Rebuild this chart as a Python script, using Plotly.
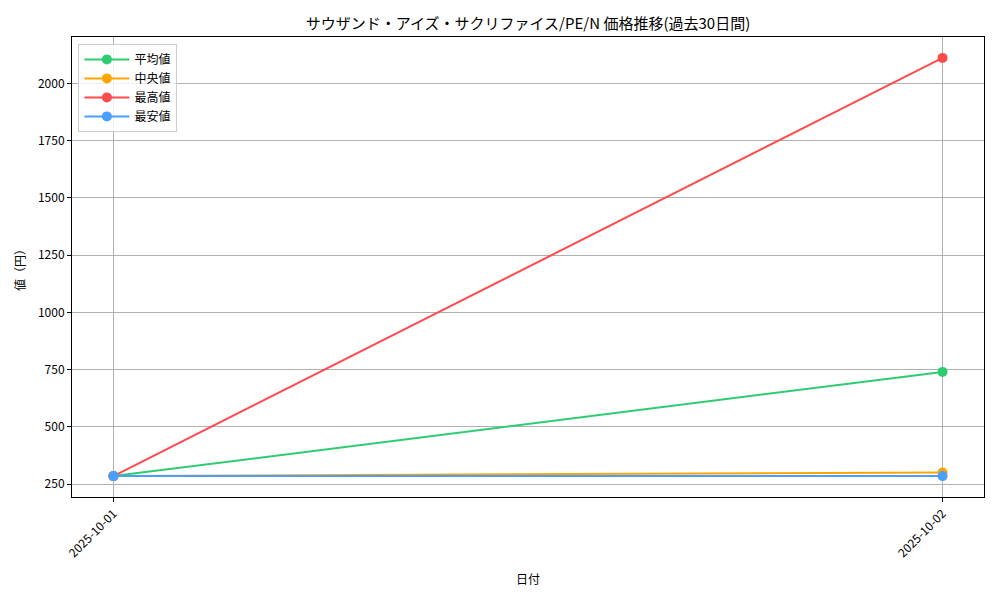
import plotly.graph_objects as go

dates = ["2025-10-01", "2025-10-02"]
mean_vals = [285, 740]
median_vals = [285, 301]
max_vals = [285, 2111]
min_vals = [285, 285]

series = [
    ("平均値", mean_vals, "#2ecc71"),
    ("中央値", median_vals, "#ffa500"),
    ("最高値", max_vals, "#ff4b4b"),
    ("最安値", min_vals, "#4a9eff"),
]

font = "Noto Sans CJK JP"

fig = go.Figure()
for name, vals, color in series:
    fig.add_trace(go.Scatter(
        x=dates, y=vals, name=name, mode="lines+markers",
        line=dict(color=color, width=2),
        marker=dict(color=color, size=10),
    ))

all_vals = mean_vals + median_vals + max_vals + min_vals
lo, hi = min(all_vals), max(all_vals)
pad = (hi - lo) * 0.05

# page body adds an 8px offset, so margins are shifted to compensate
fig.update_layout(
    width=1000, height=600,
    paper_bgcolor="white", plot_bgcolor="white",
    margin=dict(l=64, r=24, t=29, b=111, autoexpand=False),
    font=dict(family=font, size=12, color="black"),
    title=dict(text="サウザンド・アイズ・サクリファイス/PE/N 価格推移(過去30日間)",
               x=0.52, xanchor="center", y=0.973, yanchor="middle",
               font=dict(size=15)),
    legend=dict(x=0.007, y=0.985, xanchor="left", yanchor="top",
                bgcolor="rgba(255,255,255,0.8)", bordercolor="#cccccc", borderwidth=1,
                itemwidth=45, font=dict(size=12)),
    showlegend=True,
)
fig.update_xaxes(
    type="category", range=[-0.05, 1.05], automargin=False,
    title=dict(text="日付", font=dict(size=12), standoff=16),
    tickangle=-45, ticks="outside", ticklen=4, tickcolor="black",
    showgrid=True, gridcolor="#b0b0b0", gridwidth=1,
    showline=True, linecolor="black", linewidth=1, mirror=True,
    zeroline=False,
)
fig.update_yaxes(
    range=[lo - pad, hi + pad], automargin=False,
    tickvals=[250, 500, 750, 1000, 1250, 1500, 1750, 2000],
    title=dict(text="値（円）", font=dict(size=12), standoff=9),
    ticks="outside", ticklen=4, tickcolor="black",
    showgrid=True, gridcolor="#b0b0b0", gridwidth=1,
    showline=True, linecolor="black", linewidth=1, mirror=True,
    zeroline=False,
)

fig.write_html("out.html")
